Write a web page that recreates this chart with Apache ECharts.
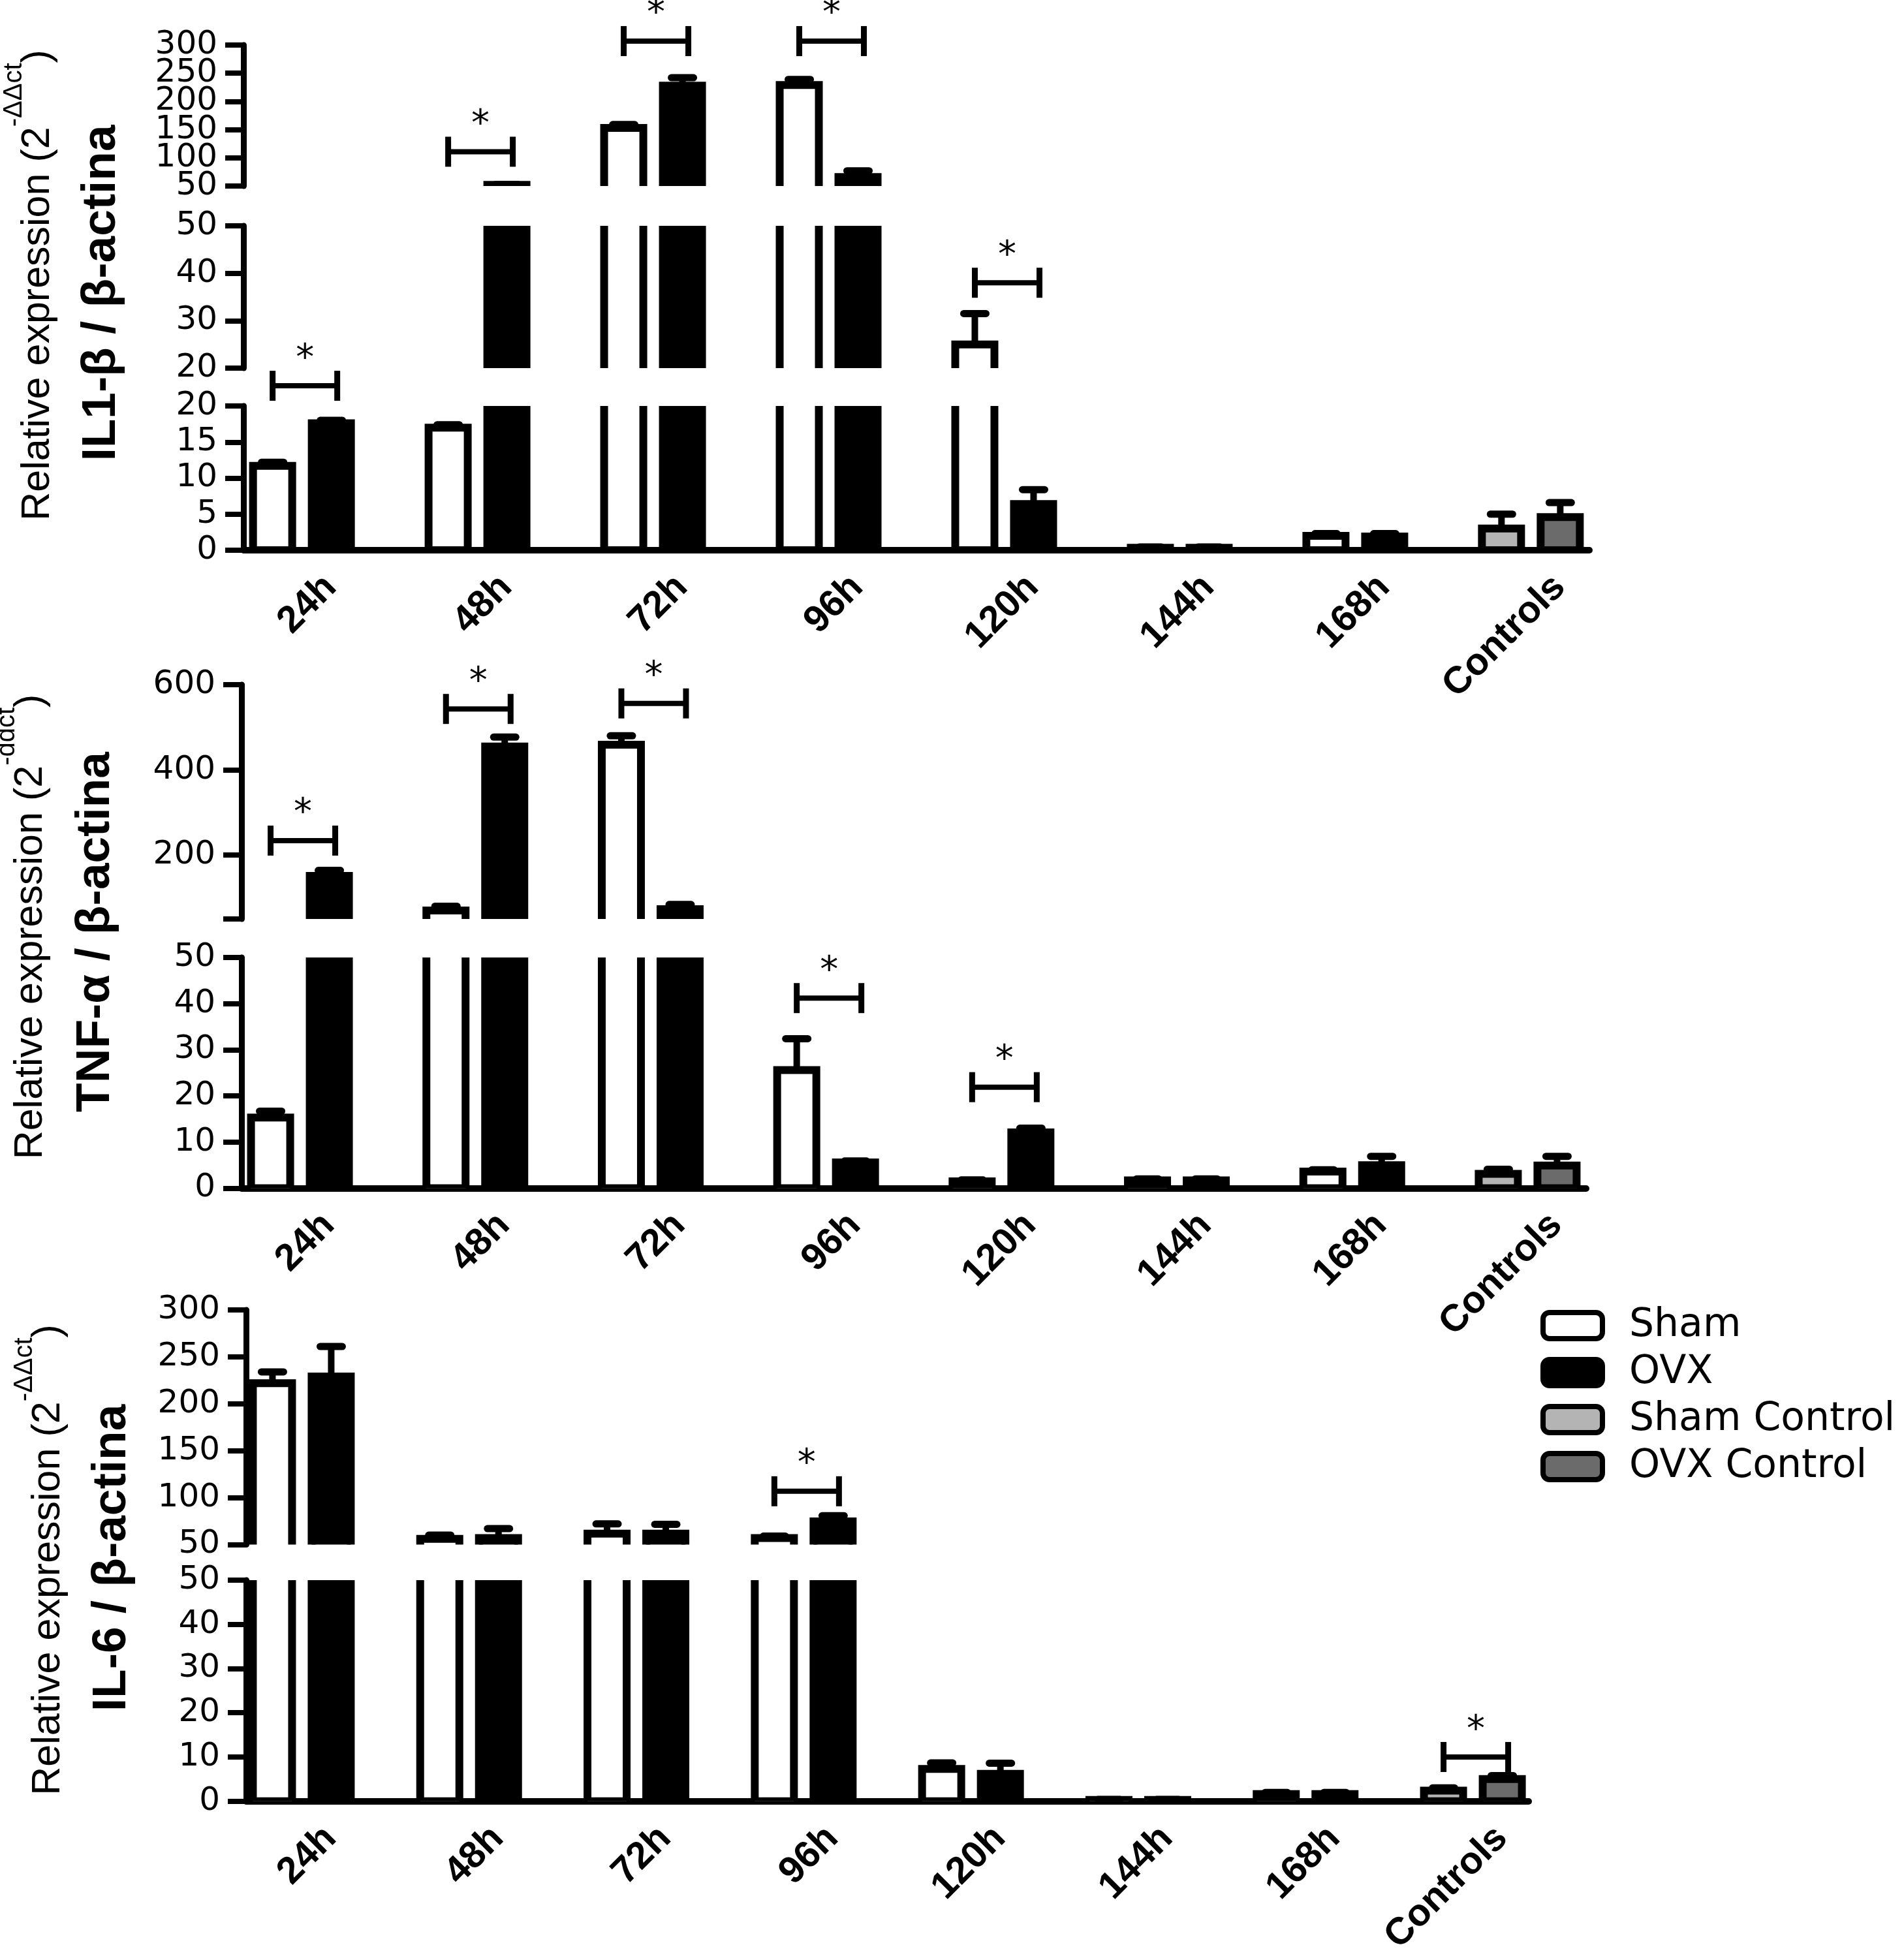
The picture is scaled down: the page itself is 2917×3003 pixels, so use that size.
<!DOCTYPE html>
<html>
<head>
<meta charset="utf-8">
<script src="https://cdn.jsdelivr.net/npm/echarts@6/dist/echarts.min.js"></script>
<style>html,body{margin:0;padding:0;background:#fff}#c{width:2917px;height:3003px}</style>
</head>
<body>
<div id="c"></div>
<script>
// ---------- DATA ----------
const categories = ['24h', '48h', '72h', '96h', '120h', '144h', '168h', 'Controls'];
const seriesNames = ['Sham', 'OVX', 'Sham Control', 'OVX Control'];

// IL1-beta
const il1Sham     = [11.7, 17.0, 153, 229, 25.0, 0.35, 2.0, null];
const il1ShamErr  = [0.5, 0.4, 6, 10, 6.5, 0.1, 0.3, null];
const il1Ovx      = [17.6, 52, 228, 66, 6.4, 0.35, 1.9, null];
const il1OvxErr   = [0.4, 1.0, 14, 11, 2.0, 0.1, 0.4, null];
const il1Controls    = [3.0, 4.6];   // Sham Control, OVX Control
const il1ControlsErr = [2.0, 2.0];
const il1SigLow  = [[0, 22.8]];
const il1SigMid  = [[4, 38]];
const il1SigHigh = [[1, 110.8], [2, 307], [3, 307]];
const il1HighTicks = [50, 100, 150, 200, 250, 300];

// TNF-alpha
const tnfSham     = [15.3, 70, 459, 25.6, 1.5, 1.7, 3.6, null];
const tnfShamErr  = [1.4, 10, 21, 6.8, 0.3, 0.3, 0.4, null];
const tnfOvx      = [151, 455, 73, 5.6, 12.1, 1.7, 5.0, null];
const tnfOvxErr   = [13, 22, 11, 0.3, 0.9, 0.3, 1.9, null];
const tnfControls    = [3.1, 4.9];
const tnfControlsErr = [1.0, 2.0];
const tnfSigLow  = [[3, 41.2], [4, 21.9]];
const tnfSigHigh = [[0, 234], [1, 543], [2, 556]];
const tnfHighTicks  = [50, 200, 400, 600];
const tnfHighLabels = [200, 400, 600];

// IL-6
const il6Sham     = [222, 56, 61.6, 57, 7.3, 0.3, 1.6, null];
const il6ShamErr  = [12, 4, 10.4, 2, 1.35, 0.1, 0.4, null];
const il6Ovx      = [229, 57, 61.6, 74.7, 6.2, 0.3, 1.6, null];
const il6OvxErr   = [32, 10, 10, 6, 2.4, 0.1, 0.4, null];
const il6Controls    = [2.4, 5.0];
const il6ControlsErr = [0.6, 0.8];
const il6SigLow  = [[7, 10.0]];
const il6SigHigh = [[3, 106.8]];

// ---------- LAYOUT / STYLE ----------
const FILL = { 'Sham': '#ffffff', 'OVX': '#000000', 'Sham Control': '#b4b4b4', 'OVX Control': '#6b6b6b' };
const OFFSET = { 'Sham': -45, 'OVX': 45, 'Sham Control': -45, 'OVX Control': 45 };
const TICK_FONT = 'DejaVu Sans';
const TITLE_FONT = 'Liberation Sans, Arial, sans-serif';

const panels = [
  { sham: il1Sham, shamErr: il1ShamErr, ovx: il1Ovx, ovxErr: il1OvxErr, ctrl: il1Controls, ctrlErr: il1ControlsErr,
    left: 373, width: 2062,
    segs: [
      { top: 69,  height: 216, min: 50, max: 300, tickValues: il1HighTicks,
        labelValues: il1HighTicks.filter(function (v, k) { return k % 2 === 0; }),
        extraLabelValues: il1HighTicks.filter(function (v, k) { return k % 2 === 1; }), sig: il1SigHigh },
      { top: 346, height: 218, min: 20, max: 50,  interval: 10, sig: il1SigMid },
      { top: 622, height: 221, min: 0,  max: 20,  interval: 5,  sig: il1SigLow, xLabels: true }
    ] },
  { sham: tnfSham, shamErr: tnfShamErr, ovx: tnfOvx, ovxErr: tnfOvxErr, ctrl: tnfControls, ctrlErr: tnfControlsErr,
    left: 370, width: 2060,
    segs: [
      { top: 1049, height: 359, min: 50, max: 600, tickValues: tnfHighTicks, labelValues: tnfHighLabels, sig: tnfSigHigh },
      { top: 1467, height: 353.5, min: 0, max: 50, interval: 10, sig: tnfSigLow, xLabels: true }
    ] },
  { sham: il6Sham, shamErr: il6ShamErr, ovx: il6Ovx, ovxErr: il6OvxErr, ctrl: il6Controls, ctrlErr: il6ControlsErr,
    left: 377, width: 1965,
    segs: [
      { top: 2007, height: 359.5, min: 50, max: 300, interval: 50, sig: il6SigHigh },
      { top: 2421, height: 357.5, min: 0, max: 50, interval: 10, sig: il6SigLow, xLabels: true }
    ] }
];

function barRender(name) {
  const offset = OFFSET[name], fill = FILL[name];
  return function (params, api) {
    const i = api.value(0), v = api.value(1), e = api.value(2);
    const top = api.coord([i, v]);
    const base = api.coord([i, 0]);
    const errTop = api.coord([i, v + e]);
    const cx = top[0] + offset;
    const w = 60;
    return {
      type: 'group',
      children: [
        { type: 'rect', shape: { x: cx - w / 2, y: top[1], width: w, height: base[1] - top[1] },
          style: { fill: fill, stroke: '#000', lineWidth: 12 } },
        { type: 'line', shape: { x1: cx, y1: top[1], x2: cx, y2: errTop[1] },
          style: { stroke: '#000', lineWidth: 10 } },
        { type: 'line', shape: { x1: cx - 17, y1: errTop[1], x2: cx + 17, y2: errTop[1] },
          style: { stroke: '#000', lineWidth: 11, lineCap: 'round' } }
      ]
    };
  };
}

function sigRender(params, api) {
  const p = api.coord([api.value(0), api.value(1)]);
  const cx = p[0], y = p[1];
  const x1 = cx - 45, x2 = cx + 54, h = 23;
  return {
    type: 'group',
    children: [
      { type: 'line', shape: { x1: x1, y1: y, x2: x2, y2: y }, style: { stroke: '#000', lineWidth: 8 } },
      { type: 'line', shape: { x1: x1, y1: y - h, x2: x1, y2: y + h }, style: { stroke: '#000', lineWidth: 9 } },
      { type: 'line', shape: { x1: x2, y1: y - h, x2: x2, y2: y + h }, style: { stroke: '#000', lineWidth: 9 } },
      { type: 'text', x: (x1 + x2) / 2, y: y - 40,
        style: { text: '*', fontSize: 56, fontFamily: TICK_FONT, fill: '#000', align: 'center', verticalAlign: 'middle' } }
    ]
  };
}

function labelStyle(extra) {
  const o = { fontSize: 50, fontFamily: TICK_FONT, color: '#000', margin: 40,
    showMinLabel: true, showMaxLabel: true, hideOverlap: false };
  for (const k in extra) o[k] = extra[k];
  return o;
}

const grid = [], xAxis = [], yAxis = [], series = [];
let g = 0;
panels.forEach(function (p) {
  const shamData = [], ovxData = [];
  categories.forEach(function (c, i) {
    if (p.sham[i] != null) shamData.push([i, p.sham[i], p.shamErr[i]]);
    if (p.ovx[i] != null) ovxData.push([i, p.ovx[i], p.ovxErr[i]]);
  });
  const ctrlIdx = categories.indexOf('Controls');
  const dataByName = {
    'Sham': shamData,
    'OVX': ovxData,
    'Sham Control': [[ctrlIdx, p.ctrl[0], p.ctrlErr[0]]],
    'OVX Control': [[ctrlIdx, p.ctrl[1], p.ctrlErr[1]]]
  };
  p.segs.forEach(function (s) {
    grid.push({ left: p.left, top: s.top, width: p.width, height: s.height, containLabel: false });
    xAxis.push({
      gridIndex: g, type: 'value', min: -1 / 3, max: categories.length - 1 + 1 / 3,
      show: !!s.xLabels,
      axisLine: { show: true, onZero: false, lineStyle: { color: '#000', width: 10 } },
      axisTick: { show: false },
      splitLine: { show: false },
      axisLabel: {
        show: !!s.xLabels,
        customValues: categories.map(function (c, i) { return i; }),
        formatter: function (v) { return categories[Math.round(v)]; },
        rotate: 45, fontSize: 58, fontWeight: 'bold', fontFamily: TITLE_FONT, color: '#000',
        margin: 4, verticalAlign: 'top', lineHeight: 70, padding: [27, 0, 0, 0]
      }
    });
    const yIdx = yAxis.length;
    const ya = {
      gridIndex: g, type: 'value', position: 'left', offset: 0, min: s.min, max: s.max,
      axisLine: { show: true, onZero: false, lineStyle: { color: '#000', width: 9 } },
      axisTick: { show: true, length: 28, lineStyle: { color: '#000', width: 8 } },
      splitLine: { show: false },
      axisLabel: labelStyle({})
    };
    if (s.interval) ya.interval = s.interval;
    if (s.tickValues) ya.axisTick.customValues = s.tickValues;
    if (s.labelValues) ya.axisLabel.customValues = s.labelValues;
    yAxis.push(ya);
    if (s.extraLabelValues) {
      // second label row on the same axis position (keeps crowded labels all visible)
      yAxis.push({
        gridIndex: g, type: 'value', position: 'left', offset: 0, min: s.min, max: s.max,
        axisLine: { show: false, onZero: false },
        axisTick: { show: false },
        splitLine: { show: false },
        axisLabel: labelStyle({ customValues: s.extraLabelValues })
      });
    }
    seriesNames.forEach(function (name) {
      series.push({
        type: 'custom', name: name, xAxisIndex: g, yAxisIndex: yIdx, clip: true, silent: true,
        dimensions: ['x', 'y', 'err'], encode: { x: 0, y: 1 },
        itemStyle: { color: FILL[name], borderColor: '#000', borderWidth: 8 },
        renderItem: barRender(name), data: dataByName[name]
      });
    });
    if (s.sig && s.sig.length) {
      series.push({
        type: 'custom', name: 'sig', xAxisIndex: g, yAxisIndex: yIdx, clip: false, silent: true,
        encode: { x: 0, y: 1 }, renderItem: sigRender, data: s.sig
      });
    }
    g++;
  });
});

function titleLine1(x, y, sup) {
  return {
    type: 'text', x: x, y: y, rotation: Math.PI / 2,
    style: {
      text: '{n|Relative expression (2}{s|' + sup + '}{n|)}',
      align: 'center', verticalAlign: 'middle',
      rich: {
        n: { fontSize: 61, fontFamily: TITLE_FONT, fill: '#000', lineHeight: 112 },
        s: { fontSize: 40, fontFamily: TITLE_FONT, fill: '#000', lineHeight: 46, verticalAlign: 'top' }
      }
    }
  };
}
function titleLine2(x, y, text) {
  return {
    type: 'text', x: x, y: y, rotation: Math.PI / 2,
    style: { text: text, fontSize: 73, fontWeight: 'bold', fontFamily: TITLE_FONT, fill: '#000',
      align: 'center', verticalAlign: 'middle' }
  };
}

const option = {
  backgroundColor: '#ffffff',
  animation: false,
  grid: grid, xAxis: xAxis, yAxis: yAxis, series: series,
  legend: {
    orient: 'vertical', left: 2360, top: 2000, padding: 0,
    itemWidth: 91, itemHeight: 40, itemGap: 10, icon: 'roundRect', selectedMode: false,
    textStyle: { fontSize: 60, fontFamily: TICK_FONT, color: '#000', lineHeight: 62, padding: [0, 0, 0, 36] },
    data: seriesNames.map(function (n) {
      return { name: n, itemStyle: { color: FILL[n], borderColor: '#000', borderWidth: 8 } };
    })
  },
  graphic: [
    titleLine1(58, 437, '-ΔΔct'),
    titleLine2(156, 449, 'IL1-β / β-actina'),
    titleLine1(47, 1420, '-ddct'),
    titleLine2(147, 1428, 'TNF-α / β-actina'),
    titleLine1(74, 2390, '-ΔΔct'),
    titleLine2(172, 2387, 'IL-6 / β-actina')
  ]
};

const chart = echarts.init(document.getElementById('c'), null, { renderer: 'canvas' });
chart.setOption(option);
</script>
</body>
</html>
